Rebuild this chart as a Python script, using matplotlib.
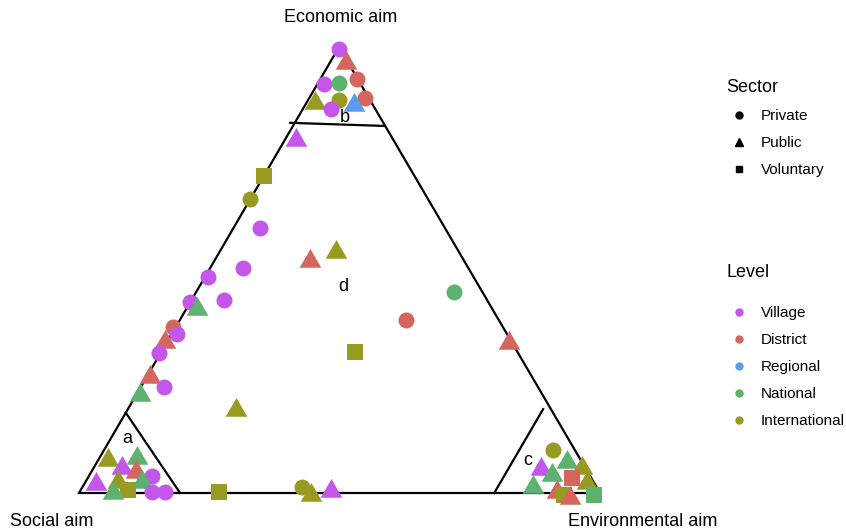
import matplotlib
matplotlib.use("Agg")
import matplotlib.pyplot as plt
from matplotlib.lines import Line2D
import numpy as np

plt.rcParams['font.family'] = ['Liberation Sans', 'DejaVu Sans']

# ---- data (percent of each aim) ----
econ = [99.5, 96.4, 92.8, 91.7, 91.9, 88.6, 87.4, 88.1, 86.1, 87.0,
        79.1, 71.1, 65.9, 59.4, 54.0, 52.0, 50.4, 48.4, 43.3, 42.8,
        41.3, 37.2, 35.7, 33.9, 31.4, 26.0, 23.8, 22.0, 18.6, 31.6,
        45.1, 38.8, 33.6,
        7.4, 5.6, 7.8, 4.7, 3.8, 2.0, 2.5, 2.5, 0.7, 0.0, 0.2, 0.2, 0.2,
        1.3, -0.4, 0.4,
        9.6, 5.4, 7.0, 5.6, 4.0, 3.4, 2.2, 1.3, 0.2, -0.4, -1.1, -0.4]
env = [0.2, 3.1, 7.0, 1.3, 4.0, 10.7, 1.7, 5.9, 5.4, 9.4,
       2.1, 0.0, 0.0, 5.1, 22.4, 18.4, 6.3, 0.6, 6.2, 0.0,
       2.1, -0.5, 1.0, -0.5, -0.3, 0.7, 4.5, 0.7, 20.8, 37.2,
       49.5, 43.4, 65.8,
       1.9, 5.5, 7.2, 8.6, 12.1, 2.3, 6.3, 10.9, 9.1, 6.5, 13.9, 16.5, 26.7,
       42.1, 44.7, 48.2,
       86.2, 86.0, 90.2, 93.7, 88.8, 93.0, 96.4, 86.5, 91.7, 93.3, 94.8, 99.0]
social = [100 - e - v for e, v in zip(econ, env)]

sector = ['Private', 'Public', 'Private', 'Private', 'Private', 'Private', 'Public', 'Private', 'Private', 'Public',
          'Public', 'Voluntary', 'Private', 'Private', 'Public', 'Public', 'Private', 'Private', 'Private', 'Private',
          'Public', 'Private', 'Private', 'Public', 'Private', 'Public', 'Private', 'Public', 'Public', 'Voluntary',
          'Private', 'Private', 'Public',
          'Public', 'Public', 'Public', 'Public', 'Private', 'Public', 'Public', 'Public', 'Voluntary', 'Public', 'Private', 'Private', 'Voluntary',
          'Private', 'Public', 'Public',
          'Private', 'Public', 'Public', 'Public', 'Public', 'Voluntary', 'Public', 'Public', 'Public', 'Voluntary', 'Public', 'Voluntary']
level = ['Village', 'District', 'District', 'Village', 'National', 'District', 'International', 'International', 'Village', 'Regional',
         'Village', 'International', 'International', 'Village', 'International', 'District', 'Village', 'Village', 'Village', 'Village',
         'National', 'District', 'Village', 'District', 'Village', 'District', 'Village', 'National', 'International', 'International',
         'National', 'District', 'District',
         'International', 'Village', 'National', 'District', 'Village', 'Village', 'International', 'National', 'International', 'National', 'Village', 'Village', 'International',
         'International', 'International', 'Village',
         'International', 'Village', 'National', 'International', 'National', 'District', 'International', 'National', 'District', 'International', 'District', 'National']

region_labels = ['a', 'b', 'c', 'd']
sector_names = ['Private', 'Public', 'Voluntary']
level_names = ['Village', 'District', 'Regional', 'National', 'International']

# ---- styles ----
level_colors = {'Village': '#C456EA', 'District': '#D4665E', 'Regional': '#5B9BEE',
                'National': '#5CB26E', 'International': '#999A22'}
sector_markers = {'Private': 'o', 'Public': (3, 0, 0), 'Voluntary': 's'}
sector_sizes = {'Private': 11.5, 'Public': 18, 'Voluntary': 11.5}

# triangle vertices in pixel space (top = economic, left = social, right = environmental)
TOP = np.array([339.0, 47.0])
LEFT = np.array([79.0, 493.0])
RIGHT = np.array([600.0, 493.0])


def tern(e, s, v):
    e, s, v = np.asarray(e) / 100.0, np.asarray(s) / 100.0, np.asarray(v) / 100.0
    x = e * TOP[0] + s * LEFT[0] + v * RIGHT[0]
    y = e * TOP[1] + s * LEFT[1] + v * RIGHT[1]
    return x, y


fig = plt.figure(figsize=(8.46, 5.32), dpi=100)
ax = fig.add_axes([0, 0, 1, 1])
ax.set_xlim(0, 846)
ax.set_ylim(532, 0)
ax.axis('off')

# outer triangle
tx, ty = tern([100, 0, 0, 100], [0, 100, 0, 0], [0, 0, 100, 0])
ax.plot(tx, ty, color='black', lw=1.6, solid_joinstyle='miter', zorder=1)

# region boundary lines
for (e1, s1, v1), (e2, s2, v2) in [((18, 82, 0), (0, 80.6, 19.4)),
                                    ((83, 17.9, -0.9), (82.3, 0.2, 17.5)),
                                    ((18.8, 1.5, 79.7), (0, 20.3, 79.7))]:
    lx, ly = tern([e1, e2], [s1, s2], [v1, v2])
    ax.plot(lx, ly, color='black', lw=1.6, zorder=1)

# points
X, Y = tern(econ, social, env)
for i in range(len(econ)):
    ax.plot(X[i], Y[i], linestyle='none', marker=sector_markers[sector[i]],
            markersize=sector_sizes[sector[i]], color=level_colors[level[i]],
            markeredgewidth=0, zorder=2)

# region labels
lab_pos = [(12.3, 84.5, 3.2), (84.1, 6.8, 9.1), (7.2, 10.2, 82.6), (46.2, 26.2, 27.6)]
for lab, (e, s, v) in zip(region_labels, lab_pos):
    lx, ly = tern(e, s, v)
    ax.text(lx, ly, lab, fontsize=13, ha='center', va='center', zorder=3)

# axis titles
ax.text(341, 18, 'Economic aim', fontsize=13, ha='center', va='center')
ax.text(10, 522, 'Social aim', fontsize=13, ha='left', va='center')
ax.text(568, 522, 'Environmental aim', fontsize=13, ha='left', va='center')

# legends
common = dict(loc='upper left', frameon=False, fontsize=11, title_fontsize=13,
              alignment='left', handlelength=1.75, handletextpad=0.5,
              labelspacing=0.85, borderaxespad=0)
sec_handles = [Line2D([], [], linestyle='none', marker=m, color='black', markersize=s)
               for m, s in zip(['o', '^', 's'], [5, 6, 5])]
leg1 = ax.legend(sec_handles, sector_names, title='Sector',
                 bbox_to_anchor=(720 / 846, 1 - 73 / 532), **common)
ax.add_artist(leg1)
lev_handles = [Line2D([], [], linestyle='none', marker='o', color=level_colors[l], markersize=5)
               for l in level_names]
leg2 = ax.legend(lev_handles, level_names, title='Level',
                 bbox_to_anchor=(720 / 846, 1 - 258 / 532), **common)
leg2._legend_box.sep = 18

fig.savefig('out.png', dpi=100)
